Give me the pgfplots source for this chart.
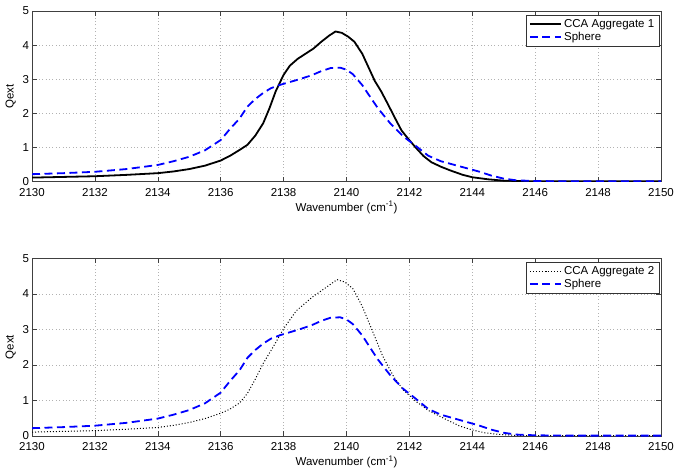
\documentclass[border=0pt]{standalone}
\usepackage{pgfplots}
\pgfplotsset{compat=1.18}
\usepackage{fontspec}
\setmainfont{Liberation Sans}
\pgfplotstableread{
x y
2130 0.12
2131 0.14
2132 0.16
2133 0.20
2134 0.25
2134.5 0.30
2135 0.37
2135.5 0.47
2136 0.62
2136.3 0.76
2136.6 0.93
2136.85 1.08
2137.1 1.35
2137.35 1.71
2137.55 2.15
2137.75 2.65
2138.0 3.13
2138.2 3.40
2138.45 3.60
2138.7 3.75
2138.95 3.90
2139.2 4.10
2139.45 4.28
2139.65 4.40
2139.85 4.36
2140.05 4.25
2140.25 4.10
2140.5 3.75
2140.7 3.35
2140.9 2.95
2141.1 2.65
2141.3 2.30
2141.55 1.85
2141.75 1.50
2141.95 1.27
2142.2 1.00
2142.45 0.75
2142.7 0.57
2143.0 0.44
2143.3 0.33
2143.7 0.20
2144.0 0.13
2144.5 0.07
2145 0.03
2145.5 0.02
2146 0.01
2150 0.01
}\aggone
\pgfplotstableread{
x y
2130 0.22
2131 0.25
2132 0.29
2133 0.37
2134 0.49
2134.5 0.60
2135 0.73
2135.5 0.92
2136 1.22
2136.3 1.55
2136.6 1.85
2136.85 2.20
2137.1 2.42
2137.35 2.60
2137.6 2.74
2137.9 2.84
2138.2 2.92
2138.5 3.00
2138.9 3.12
2139.2 3.24
2139.5 3.33
2139.8 3.34
2140.0 3.28
2140.2 3.15
2140.5 2.83
2140.8 2.42
2141.0 2.15
2141.4 1.70
2141.8 1.33
2142.2 1.05
2142.6 0.76
2143.0 0.60
2143.4 0.50
2143.8 0.40
2144.2 0.30
2144.6 0.18
2145.0 0.09
2145.4 0.04
2146 0.02
2147 0.01
2150 0.01
}\sphere
\pgfplotstableread{
x y
2130 0.11
2131 0.13
2132 0.15
2133 0.19
2134 0.24
2134.5 0.30
2135 0.38
2135.5 0.49
2136 0.64
2136.3 0.76
2136.6 0.93
2136.85 1.20
2137.1 1.60
2137.35 2.04
2137.67 2.51
2138.0 3.02
2138.4 3.52
2138.9 3.90
2139.35 4.18
2139.7 4.40
2139.95 4.33
2140.2 4.15
2140.5 3.65
2140.85 2.90
2141.15 2.25
2141.5 1.67
2141.8 1.30
2142.2 0.98
2142.6 0.72
2143.2 0.45
2143.6 0.28
2144.0 0.17
2144.4 0.09
2144.8 0.05
2145.3 0.02
2146 0.01
2150 0.01
}\aggtwo
\begin{document}
\fontsize{11.5}{13}\selectfont
\begin{tikzpicture}
\useasboundingbox (0pt,0pt) rectangle (685pt,-476pt);
\pgfplotsset{
  myax/.style={
    scale only axis, width=629pt, xmin=2130, xmax=2150, ymin=0, ymax=5,
    xtick={2130,2132,...,2150}, ytick={0,1,2,3,4,5},
    tick align=inside, tick pos=both, major tick length=5pt,
    grid=major, major grid style={black!30, line width=0.5pt, dash pattern=on 0.8pt off 2.6pt},
    axis line style={line width=0.6pt, black!75},
    tick style={black!75, line width=0.6pt},
    xticklabel style={/pgf/number format/1000 sep={}, yshift=-2.5pt},
    yticklabel style={xshift=1pt},
    /pgf/number format/assume math mode=true,
    ticklabel style={font=\fontsize{11.5}{13}\selectfont},
    label style={font=\fontsize{11.5}{13}\selectfont},
    ylabel={Qext}, xlabel={Wavenumber (cm\textsuperscript{-1})},
    xlabel style={yshift=3pt},
    ylabel style={yshift=-1pt},
    legend style={at={(rel axis cs:1,1)}, anchor=north east, xshift=-1.5pt, yshift=-4pt,
      font=\fontsize{11.5}{13}\selectfont, draw=black!80, line width=0.5pt,
      inner xsep=3pt, inner ysep=2pt, row sep=-1pt},
    legend cell align=left,
    legend image code/.code={\draw[mark repeat=2,mark phase=2] plot coordinates {(0cm,0cm) (0.55cm,0cm) (1.1cm,0cm)};},
  }
}
\begin{axis}[myax, at={(32pt,-11pt)}, anchor=north west, height=170.7pt]
\addplot[black, line width=1.8pt, line join=round] table {\aggone};
\addlegendentry{CCA Aggregate 1}
\addplot[blue, line width=1.8pt, dash pattern=on 8pt off 4.5pt] table {\sphere};
\addlegendentry{Sphere}
\end{axis}
\begin{axis}[myax, at={(32pt,-258.3pt)}, anchor=north west, height=177.7pt]
\addplot[black, line width=1pt, dash pattern=on 1pt off 2pt] table {\aggtwo};
\addlegendentry{CCA Aggregate 2}
\addplot[blue, line width=1.8pt, dash pattern=on 8pt off 4.5pt] table {\sphere};
\addlegendentry{Sphere}
\end{axis}
\end{tikzpicture}
\end{document}
